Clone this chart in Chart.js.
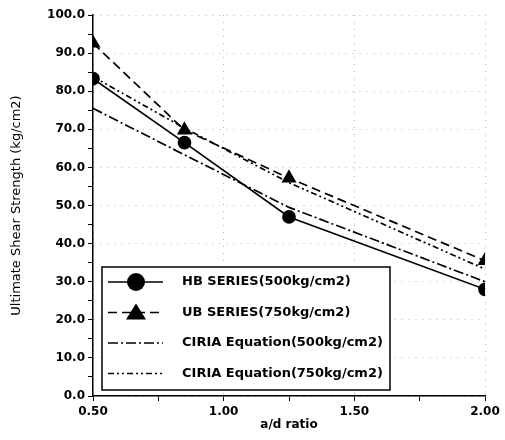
<!DOCTYPE html>
<html>
<head>
<meta charset="utf-8">
<script src="https://cdn.jsdelivr.net/npm/chart.js@4"></script>
<style>
  html, body { margin: 0; padding: 0; background: #fff; }
  #wrap { width: 505px; height: 440px; }
</style>
</head>
<body>
<div id="wrap"><canvas id="shearChart"></canvas></div>
<script>
  const adRatio = [0.5, 0.85, 1.25, 2.0];
  const hbSeries = [83.3, 66.5, 47.0, 28.0];
  const ubSeries = [92.6, 69.8, 57.2, 35.5];
  const ciria500 = [75.5, 63.3, 49.5, 30.0];
  const ciria750 = [83.8, 70.3, 56.0, 33.3];

  const seriesLabels = [
    'HB SERIES(500kg/cm2)',
    'UB SERIES(750kg/cm2)',
    'CIRIA Equation(500kg/cm2)',
    'CIRIA Equation(750kg/cm2)',
  ];
  const seriesDash = [[], [9, 5], [10, 3, 2, 3], [6, 3, 2, 3, 2, 3]];
  const seriesPoint = ['circle', 'triangle', false, false];
  const seriesRadius = [6, 7, 0, 0];

  const toPoints = (values) => values.map((v, i) => ({ x: adRatio[i], y: v }));

  const datasets = [hbSeries, ubSeries, ciria500, ciria750].map((values, i) => ({
    label: seriesLabels[i],
    data: toPoints(values),
    borderColor: '#000',
    backgroundColor: '#000',
    borderWidth: 1.7,
    borderDash: seriesDash[i],
    pointStyle: seriesPoint[i] || 'circle',
    pointRadius: seriesRadius[i],
    pointHoverRadius: seriesRadius[i],
    tension: 0,
  }));

  // legend box drawn inside the plot, like the original figure
  const boxLegend = {
    id: 'boxLegend',
    afterDraw(chart) {
      const ctx = chart.ctx;
      const left = 102, top = 267, right = 390, bottom = 390;
      ctx.save();
      ctx.fillStyle = '#fff';
      ctx.fillRect(left, top, right - left, bottom - top);
      ctx.strokeStyle = '#000';
      ctx.lineWidth = 1.5;
      ctx.strokeRect(left, top, right - left, bottom - top);
      chart.data.datasets.forEach((ds, i) => {
        const y = 282 + i * 30.5;
        ctx.strokeStyle = '#000';
        ctx.lineWidth = 1.5;
        ctx.setLineDash(ds.borderDash);
        ctx.beginPath();
        ctx.moveTo(108, y);
        ctx.lineTo(163, y);
        ctx.stroke();
        ctx.setLineDash([]);
        if (ds.pointRadius > 0) {
          ctx.fillStyle = '#000';
          if (ds.pointStyle === 'circle') {
            ctx.beginPath();
            ctx.arc(136, y, 9, 0, Math.PI * 2);
            ctx.fill();
          } else {
            ctx.beginPath();
            ctx.moveTo(136, y - 9);
            ctx.lineTo(146, y + 7);
            ctx.lineTo(126, y + 7);
            ctx.closePath();
            ctx.fill();
          }
        }
        ctx.fillStyle = '#000';
        ctx.font = 'bold 13px "DejaVu Sans"';
        ctx.textBaseline = 'middle';
        ctx.fillText(ds.label, 182, y);
      });
      ctx.restore();
    },
  };

  const tickFont = { family: '"DejaVu Sans"', size: 12, weight: 'bold' };
  const gridGray = '#b4b4b4';

  const config = {
    type: 'line',
    data: { datasets },
    options: {
      responsive: true,
      maintainAspectRatio: false,
      animation: false,
      layout: { padding: { left: 9, right: 20, top: 15, bottom: 8 } },
      plugins: {
        legend: { display: false },
        tooltip: { enabled: false },
      },
      scales: {
        x: {
          type: 'linear',
          min: 0.5,
          max: 2.0,
          afterFit: (scale) => { scale.height = 36; },
          ticks: {
            stepSize: 0.25,
            color: '#000',
            font: tickFont,
            padding: 4,
            maxRotation: 0,
            autoSkip: false,
            callback: (v) => (Math.abs(v * 2 - Math.round(v * 2)) < 1e-6 ? v.toFixed(2) : ''),
          },
          grid: {
            color: (c) => (c.tick && Math.abs(c.tick.value * 2 - Math.round(c.tick.value * 2)) < 1e-6 ? gridGray : 'rgba(0,0,0,0)'),
            tickColor: '#000',
            tickLength: 5,
            lineWidth: 1,
          },
          border: { display: true, color: '#000', width: 1.5, dash: [1, 6] },
          title: {
            display: true,
            text: 'a/d ratio',
            color: '#000',
            font: { family: '"DejaVu Sans"', size: 12, weight: 'bold' },
            padding: { top: 0, bottom: 0 },
          },
        },
        y: {
          min: 0,
          max: 100,
          afterFit: (scale) => { scale.width = 84; },
          ticks: {
            stepSize: 5,
            color: '#000',
            font: tickFont,
            padding: 3,
            autoSkip: false,
            callback: (v) => (v % 10 === 0 ? v.toFixed(1) : ''),
          },
          grid: {
            color: (c) => (c.tick && c.tick.value % 10 === 0 ? gridGray : 'rgba(0,0,0,0)'),
            tickColor: '#000',
            tickLength: 5,
            lineWidth: 1,
          },
          border: { display: true, color: '#000', width: 1.5, dash: [1, 6] },
          title: {
            display: true,
            text: 'Ultimate Shear Strength (kg/cm2)',
            color: '#000',
            font: { family: '"DejaVu Sans"', size: 13 },
            padding: { top: 0, bottom: 4 },
          },
        },
      },
    },
    plugins: [boxLegend],
  };

  new Chart(document.getElementById('shearChart'), config);
</script>
</body>
</html>
